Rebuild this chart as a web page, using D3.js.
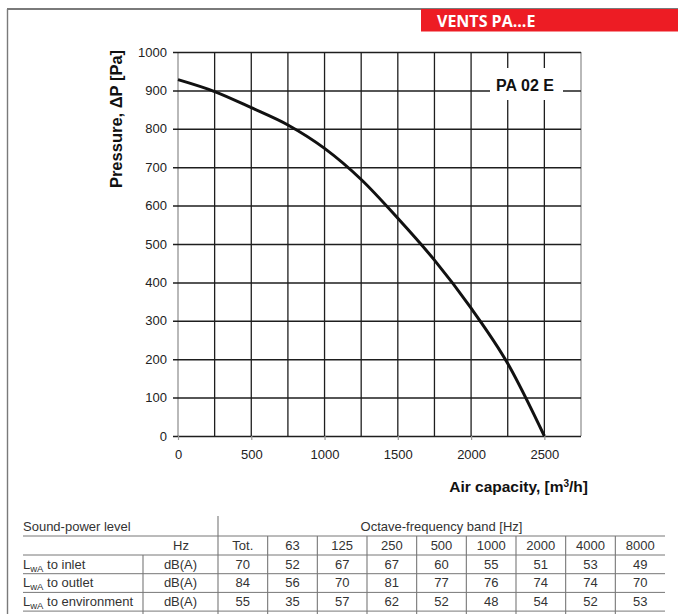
<!DOCTYPE html>
<html><head><meta charset="utf-8">
<script src="https://cdn.jsdelivr.net/npm/d3@7"></script>
<style>
html,body{margin:0;padding:0;background:#fff;}
svg{display:block;}
</style></head>
<body>
<svg id="chart" width="678" height="614"></svg>
<script>
// ---- data ----
const flowValues = [0, 250, 500, 750, 1000, 1250, 1500, 1750, 2000, 2250, 2500];
const pressureValues = [928, 897, 855, 810, 749, 668, 567, 458, 333, 189, 0];
const xTickLabels = [0, 500, 1000, 1500, 2000, 2500];
const xGridValues = [0, 250, 500, 750, 1000, 1250, 1500, 1750, 2000, 2250, 2500, 2750];
const yTickLabels = [0, 100, 200, 300, 400, 500, 600, 700, 800, 900, 1000];
const bands = ["Tot.", "63", "125", "250", "500", "1000", "2000", "4000", "8000"];
const rowLabels = ["to inlet", "to outlet", "to environment"];
const inletValues = [70, 52, 67, 67, 60, 55, 51, 53, 49];
const outletValues = [84, 56, 70, 81, 77, 76, 74, 74, 70];
const environmentValues = [55, 35, 57, 62, 52, 48, 54, 52, 53];
const rowsData = [inletValues, outletValues, environmentValues];

const svg = d3.select("#chart");
const FONT = "'Liberation Sans', Arial, Helvetica, sans-serif";

// ---- page frame ----
svg.append("line").attr("x1", 7).attr("x2", 678).attr("y1", 9).attr("y2", 9)
  .attr("stroke", "#7a7a7a").attr("stroke-width", 1.8);
svg.append("line").attr("x1", 7.5).attr("x2", 7.5).attr("y1", 9).attr("y2", 614)
  .attr("stroke", "#7a7a7a").attr("stroke-width", 1.4);
svg.append("rect").attr("x", 421).attr("y", 9).attr("width", 257).attr("height", 22.5)
  .attr("fill", "#ed1c24");
svg.append("text").attr("x", 437).attr("y", 27).text("VENTS PA...E")
  .attr("fill", "#fff").attr("font-family", "'Open Sans', sans-serif")
  .attr("font-weight", 700).attr("font-size", 16);

// ---- scales ----
const x = d3.scaleLinear().domain([0, 2750]).range([178, 581]);
const y = d3.scaleLinear().domain([0, 1000]).range([436, 52]);

// vertical grid
const gx = svg.append("g");
gx.selectAll("line").data(xGridValues).join("line")
  .attr("x1", d => x(d)).attr("x2", d => x(d))
  .attr("y1", y(1000)).attr("y2", y(0))
  .attr("stroke", d => (d === 0 || d === 2750) ? "#8a8a8a" : "#1e1e1e")
  .attr("stroke-width", d => (d === 0 || d === 2750) ? 1.2 : 1.3);

// y axis with gridlines
const yAxis = d3.axisLeft(y).tickValues(yTickLabels).tickSizeInner(-(581 - 178)).tickSizeOuter(0)
  .tickPadding(11).tickFormat(d3.format("d"));
const gy = svg.append("g").attr("transform", `translate(178,0)`).call(yAxis);
gy.select(".domain").remove();
gy.selectAll(".tick line").attr("x1", -5).attr("stroke", "#1e1e1e").attr("stroke-width", 1.5);
gy.selectAll(".tick text").attr("font-family", FONT).attr("font-size", 13).attr("fill", "#222")
  .attr("x", -11);

// x axis labels
const xAxis = d3.axisBottom(x).tickValues(xTickLabels).tickSize(4).tickPadding(10).tickFormat(d3.format("d"));
const gxa = svg.append("g").attr("transform", `translate(0,${y(0)})`).call(xAxis);
gxa.select(".domain").remove();
gxa.selectAll(".tick line").attr("stroke", "#999").attr("stroke-width", 1.2);
gxa.selectAll(".tick text").attr("font-family", FONT).attr("font-size", 13).attr("fill", "#222");

// axis titles
svg.append("text")
  .attr("transform", "translate(122,119) rotate(-90)")
  .attr("text-anchor", "middle")
  .attr("font-family", FONT).attr("font-weight", 700).attr("font-size", 16.5).attr("fill", "#111")
  .text("Pressure, \u0394P [Pa]");
const xt = svg.append("text").attr("x", 588).attr("y", 492).attr("text-anchor", "end")
  .attr("font-family", FONT).attr("font-weight", 700).attr("font-size", 15.5).attr("fill", "#111");
xt.append("tspan").text("Air capacity, [m");
xt.append("tspan").text("3").attr("font-size", 10).attr("dy", -5);
xt.append("tspan").text("/h]").attr("dy", 5);

// model label box
svg.append("rect").attr("x", 490).attr("y", 68).attr("width", 73).attr("height", 32).attr("fill", "#fff");
svg.append("text").attr("x", 525).attr("y", 91).attr("text-anchor", "middle")
  .attr("font-family", FONT).attr("font-weight", 700).attr("font-size", 16).attr("fill", "#111")
  .text("PA 02 E");

// curve
const pts = flowValues.map((f, i) => [f, pressureValues[i]]);
svg.append("path").datum(pts)
  .attr("d", d3.line().x(d => x(d[0])).y(d => y(d[1])).curve(d3.curveMonotoneX))
  .attr("fill", "none").attr("stroke", "#111").attr("stroke-width", 3);

// ---- table ----
const col = d3.scaleBand().domain(bands).range([218, 665]);
const rowLines = [536, 555, 573.7, 592.4, 611.1];
const tableColor = "#777";
const tg = svg.append("g").attr("font-family", FONT).attr("font-size", 13).attr("fill", "#333");

tg.selectAll("line.h").data(rowLines).join("line")
  .attr("x1", 23).attr("x2", 665).attr("y1", d => d).attr("y2", d => d)
  .attr("stroke", tableColor).attr("stroke-width", 1);
tg.append("line").attr("x1", 218).attr("x2", 218).attr("y1", 516).attr("y2", 614)
  .attr("stroke", tableColor).attr("stroke-width", 1.1);
tg.append("line").attr("x1", 143).attr("x2", 143).attr("y1", 555).attr("y2", 614)
  .attr("stroke", tableColor).attr("stroke-width", 1.1);
tg.selectAll("line.v").data(bands.slice(1)).join("line")
  .attr("x1", d => col(d)).attr("x2", d => col(d)).attr("y1", 536).attr("y2", 614)
  .attr("stroke", tableColor).attr("stroke-width", 1.1);

tg.append("text").attr("x", 23).attr("y", 531).text("Sound-power level");
tg.append("text").attr("x", 441.5).attr("y", 531).attr("text-anchor", "middle").text("Octave-frequency band [Hz]");
tg.append("text").attr("x", 181).attr("y", 550).attr("text-anchor", "middle").text("Hz");
tg.selectAll("text.band").data(bands).join("text")
  .attr("x", d => col(d) + col.bandwidth() / 2).attr("y", 550).attr("text-anchor", "middle").text(d => d);

const baselines = [568.5, 587.2, 605.9];
rowLabels.forEach((lab, i) => {
  const t = tg.append("text").attr("x", 23).attr("y", baselines[i]);
  t.append("tspan").text("L");
  t.append("tspan").text("wA").attr("font-size", 9.5).attr("dy", 3);
  t.append("tspan").text(" " + lab).attr("dy", -3);
  tg.append("text").attr("x", 180.5).attr("y", baselines[i]).attr("text-anchor", "middle").text("dB(A)");
  tg.selectAll(null).data(rowsData[i]).join("text")
    .attr("x", (d, j) => col(bands[j]) + col.bandwidth() / 2).attr("y", baselines[i])
    .attr("text-anchor", "middle").text(d => d);
});
</script>
</body></html>
